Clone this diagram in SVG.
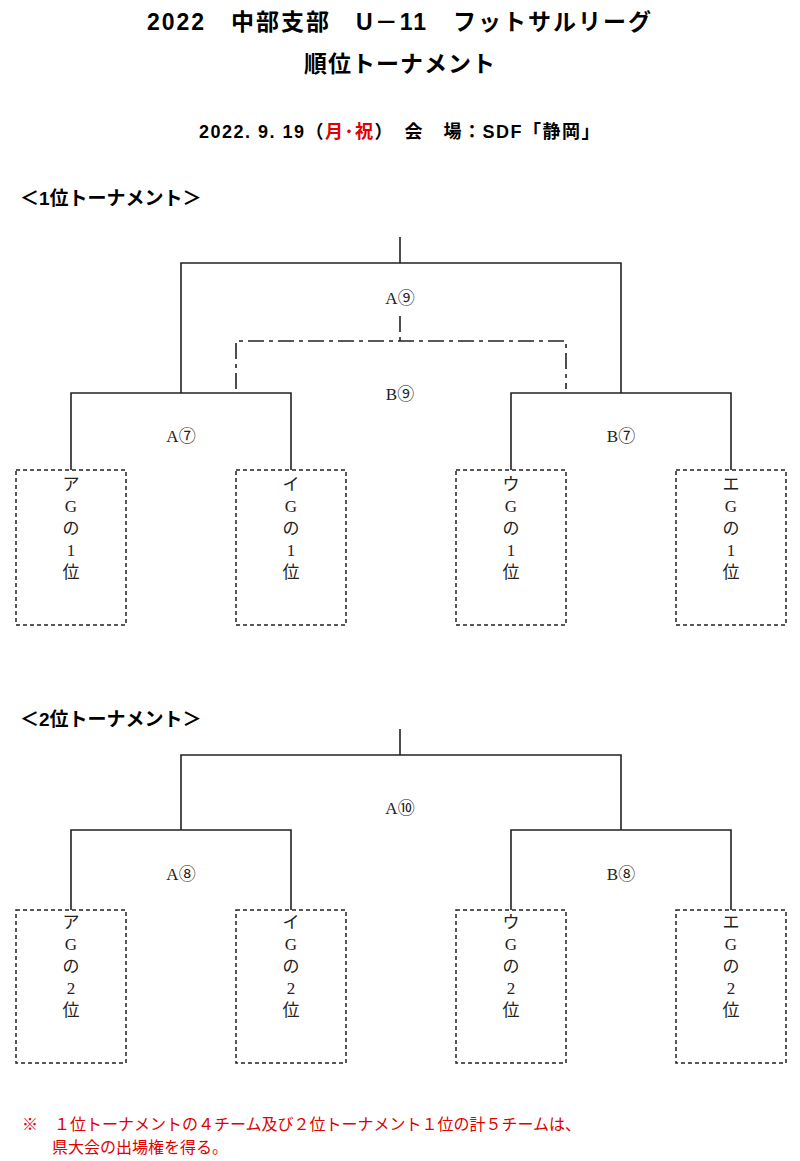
<svg xmlns="http://www.w3.org/2000/svg" width="800" height="1161" viewBox="0 0 800 1161">
<style>
.h{font-family:"Liberation Sans","Noto Sans CJK JP",sans-serif;font-weight:bold;fill:#000}
.m{font-family:"Liberation Serif","Noto Sans CJK JP",serif;font-size:17px;fill:#222;text-anchor:middle}
.l{stroke:#222;stroke-width:1.6;fill:none}
.d{stroke:#222;stroke-width:1.6;fill:none;stroke-dasharray:16 5 4 5}
.b{stroke:#222;stroke-width:1.5;fill:#fff;stroke-dasharray:4 3}
.r{fill:#e00000}
</style>
<rect width="800" height="1161" fill="#fff"/>
<text class="h" x="400" y="30" font-size="23" letter-spacing="2" text-anchor="middle">2022　中部支部　U－11　フットサルリーグ</text>
<text class="h" x="400" y="72" font-size="23" letter-spacing="1" text-anchor="middle">順位トーナメント</text>
<text class="h" x="400" y="138" font-size="18" letter-spacing="1.5" text-anchor="middle">2022. 9. 19（<tspan class="r">月･祝</tspan>）　会　場：SDF「静岡」</text>
<text class="h" x="20" y="205" font-size="19">＜1位トーナメント＞</text>
<text class="h" x="20" y="726" font-size="19">＜2位トーナメント＞</text>
<g id="connectors">
<path class="l" d="M400 237V263M181 393V263H621V393M71 470V393H291V470M511 470V393H731V470"/>
<path class="d" d="M400 316V341M236 389V341H566V389"/>
<path class="l" d="M400 729V755M181 830V755H621V830M71 910V830H291V910M511 910V830H731V910"/>
</g>
<g id="labels">
<text class="m" x="400" y="304">A⑨</text>
<text class="m" x="400" y="400">B⑨</text>
<text class="m" x="181" y="442">A⑦</text>
<text class="m" x="621" y="442">B⑦</text>
<text class="m" x="400" y="814">A⑩</text>
<text class="m" x="181" y="880">A⑧</text>
<text class="m" x="621" y="880">B⑧</text>
</g>
<g id="t1a"><rect class="b" x="16" y="470" width="110" height="155"/><text class="m" x="71" y="490">ア<tspan x="71" dy="22">G</tspan><tspan x="71" dy="22">の</tspan><tspan x="71" dy="22">1</tspan><tspan x="71" dy="22">位</tspan></text></g>
<g id="t1b"><rect class="b" x="236" y="470" width="110" height="155"/><text class="m" x="291" y="490">イ<tspan x="291" dy="22">G</tspan><tspan x="291" dy="22">の</tspan><tspan x="291" dy="22">1</tspan><tspan x="291" dy="22">位</tspan></text></g>
<g id="t1c"><rect class="b" x="456" y="470" width="110" height="155"/><text class="m" x="511" y="490">ウ<tspan x="511" dy="22">G</tspan><tspan x="511" dy="22">の</tspan><tspan x="511" dy="22">1</tspan><tspan x="511" dy="22">位</tspan></text></g>
<g id="t1d"><rect class="b" x="676" y="470" width="110" height="155"/><text class="m" x="731" y="490">エ<tspan x="731" dy="22">G</tspan><tspan x="731" dy="22">の</tspan><tspan x="731" dy="22">1</tspan><tspan x="731" dy="22">位</tspan></text></g>
<g id="t2a"><rect class="b" x="16" y="910" width="110" height="153"/><text class="m" x="71" y="928">ア<tspan x="71" dy="22">G</tspan><tspan x="71" dy="22">の</tspan><tspan x="71" dy="22">2</tspan><tspan x="71" dy="22">位</tspan></text></g>
<g id="t2b"><rect class="b" x="236" y="910" width="110" height="153"/><text class="m" x="291" y="928">イ<tspan x="291" dy="22">G</tspan><tspan x="291" dy="22">の</tspan><tspan x="291" dy="22">2</tspan><tspan x="291" dy="22">位</tspan></text></g>
<g id="t2c"><rect class="b" x="456" y="910" width="110" height="153"/><text class="m" x="511" y="928">ウ<tspan x="511" dy="22">G</tspan><tspan x="511" dy="22">の</tspan><tspan x="511" dy="22">2</tspan><tspan x="511" dy="22">位</tspan></text></g>
<g id="t2d"><rect class="b" x="676" y="910" width="110" height="153"/><text class="m" x="731" y="928">エ<tspan x="731" dy="22">G</tspan><tspan x="731" dy="22">の</tspan><tspan x="731" dy="22">2</tspan><tspan x="731" dy="22">位</tspan></text></g>
<text x="22" y="1130" font-size="16" class="r" font-family="Noto Sans CJK JP,sans-serif">※　１位トーナメントの４チーム及び２位トーナメント１位の計５チームは、</text>
<text x="52" y="1153" font-size="16" class="r" font-family="Noto Sans CJK JP,sans-serif">県大会の出場権を得る。</text>
</svg>
